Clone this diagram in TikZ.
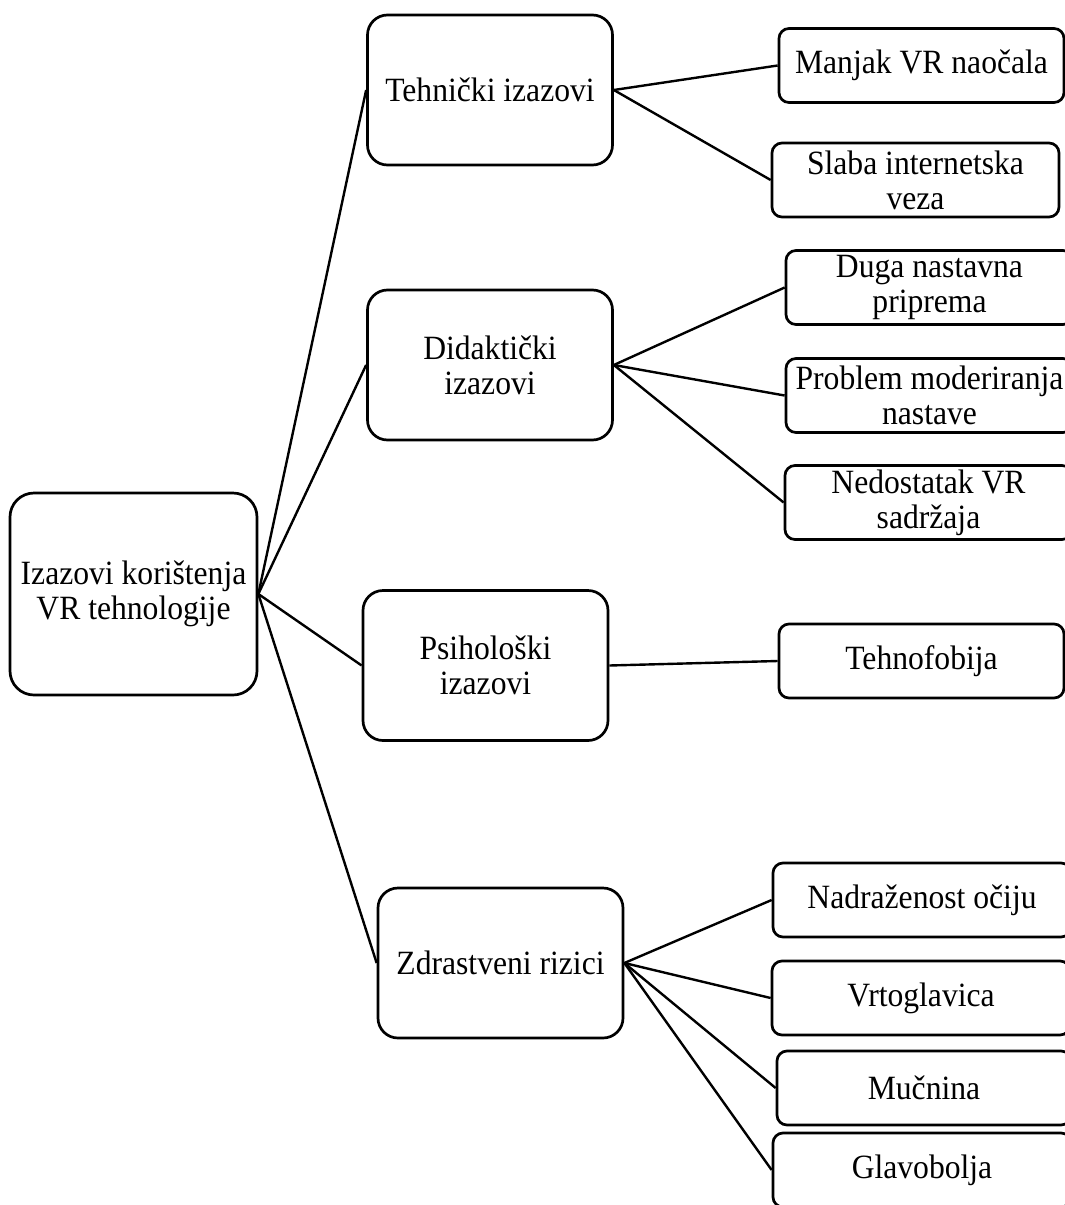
\documentclass[tikz,border=0pt]{standalone}
\usepackage{fontspec}
\setmainfont[FakeStretch=0.93]{Liberation Serif}
\usepackage{tikz}

\begin{document}
\begin{tikzpicture}[
    x=1pt, y=-1pt,
    every node/.style={font=\fontsize{34}{35}\selectfont},
    block/.style={rectangle, draw, line width=2.7pt, rounded corners=20pt, align=center, minimum width=245pt, minimum height=150pt, inner sep=0pt},
    rootblock/.style={block, minimum width=247pt, minimum height=202pt, rounded corners=24pt},
    leaf/.style={rectangle, draw, line width=2.7pt, rounded corners=10pt, align=center, minimum width=287pt, minimum height=74pt, inner sep=0pt},
    line/.style={draw, line width=2.4pt}
]
    \useasboundingbox (0,0) rectangle (1065,1205);
    \clip (0,0) rectangle (1065,1205);

    % Nodes
    \node [rootblock] (root) at (133.5,594) {Izazovi korištenja\\VR tehnologije};
    \node [block] (tech) at (490,90) {Tehnički izazovi};
    \node [block] (did) at (490,365) {Didaktički\\izazovi};
    \node [block] (psi) at (485.5,665.5) {Psihološki\\izazovi};
    \node [block] (zdr) at (500.5,963) {Zdrastveni rizici};

    \node [leaf, minimum width=285pt] (manjak) at (921.5,65.5) {Manjak VR naočala};
    \node [leaf] (slaba) at (915.5,180) {Slaba internetska\\veza};
    \node [leaf] (duga) at (929.5,287.5) {Duga nastavna\\priprema};
    \node [leaf] (problem) at (929.5,395.5) {Problem moderiranja\\nastave};
    \node [leaf] (nedostatak) at (928.5,502.5) {Nedostatak VR\\sadržaja};
    \node [leaf, minimum width=285pt] (tehno) at (921.5,661) {Tehnofobija};
    \node [leaf, minimum width=298pt] (nadr) at (922,900) {Nadraženost očiju};
    \node [leaf, minimum width=298pt] (vrto) at (921,998) {Vrtoglavica};
    \node [leaf, minimum width=294pt] (mucn) at (924,1088) {Mučnina};
    \node [leaf, minimum width=298pt] (glavo) at (922,1170) {Glavobolja};

    % Edges
    \path [line] (root.east) -- (tech.west);
    \path [line] (root.east) -- (did.west);
    \path [line] (root.east) -- (psi.west);
    \path [line] (root.east) -- (zdr.west);
    \path [line] (tech.east) -- (manjak.west);
    \path [line] (tech.east) -- (slaba.west);
    \path [line] (did.east) -- (duga.west);
    \path [line] (did.east) -- (problem.west);
    \path [line] (did.east) -- (nedostatak.west);
    \path [line] (psi.east) -- (tehno.west);
    \path [line] (zdr.east) -- (nadr.west);
    \path [line] (zdr.east) -- (vrto.west);
    \path [line] (zdr.east) -- (mucn.west);
    \path [line] (zdr.east) -- (glavo.west);
\end{tikzpicture}
\end{document}
